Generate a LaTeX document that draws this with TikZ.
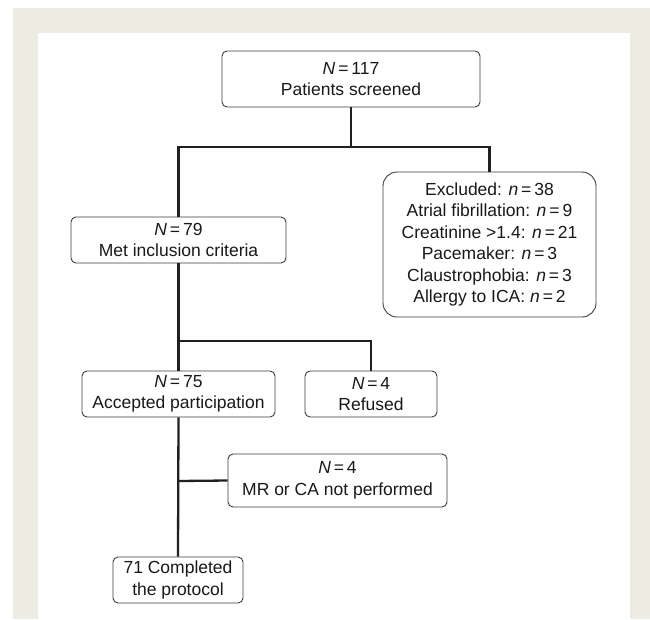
\documentclass[tikz,border=0pt]{standalone}
\usepackage{fontspec}
\setmainfont{Liberation Sans}
\usepackage{xcolor}
\usepackage{tikz}
\definecolor{framebeige}{RGB}{237,236,226}
\definecolor{boxline}{RGB}{60,60,60}
\definecolor{linkline}{RGB}{35,31,32}
\tikzset{
    stage/.style={draw=boxline, line width=0.9pt, rounded corners=5pt, align=center,
        inner sep=0pt, font=\fontsize{17.5}{21.5}\selectfont, text=black!90},
    excbox/.style={stage, rounded corners=14pt},
    link/.style={draw=linkline, line width=2.3pt},
}

\begin{document}
\begin{tikzpicture}[x=1pt,y=-1pt]
    % Frame
    \useasboundingbox (0,0) rectangle (650,619);
    \fill[framebeige] (13,8) rectangle (650,619);
    \fill[white] (38,33) rectangle (630,619);

    % Screened
    \node[stage, minimum width=258pt, minimum height=56pt] (screened) at (351,79)
        {\textit{N}\,=\,117\\Patients screened};

    % Excluded
    \node[excbox, minimum width=213pt, minimum height=145pt] (excluded) at (489.5,244.5)
        {Excluded: \textit{n}\,=\,38\\
         Atrial fibrillation: \textit{n}\,=\,9\\
         Creatinine >1.4: \textit{n}\,=\,21\\
         Pacemaker: \textit{n}\,=\,3\\
         Claustrophobia: \textit{n}\,=\,3\\
         Allergy to ICA: \textit{n}\,=\,2};

    % Inclusion
    \node[stage, minimum width=215pt, minimum height=46pt] (included) at (178.5,240)
        {\textit{N}\,=\,79\\Met inclusion criteria};

    % Accepted / refused
    \node[stage, minimum width=193pt, minimum height=46pt] (accepted) at (178.5,394)
        {\textit{N}\,=\,75\\Accepted participation};
    \node[stage, minimum width=132pt, minimum height=46pt] (refused) at (371,394)
        {\textit{N}\,=\,4\\Refused};

    % Not performed
    \node[stage, minimum width=219pt, minimum height=53pt] (notdone) at (337.5,480.5)
        {\textit{N}\,=\,4\\MR or CA not performed};

    % Completed
    \node[stage, minimum width=130pt, minimum height=46pt] (completed) at (178,580)
        {71 Completed\\the protocol};

    % Connectors
    \coordinate (split1) at (351,147);
    \coordinate (split2) at (178,341);
    \coordinate (split3) at (178,481);
    \draw[link] (screened.south) -- (split1);
    \draw[link] (included.north) |- (split1) -| (excluded.north);
    \draw[link] (included.south) -- (accepted.north);
    \draw[link] (split2) -| (refused.north);
    \draw[link] (accepted.south) -- (completed.north);
    \draw[link] (split3) -- (notdone.west);
\end{tikzpicture}
\end{document}
